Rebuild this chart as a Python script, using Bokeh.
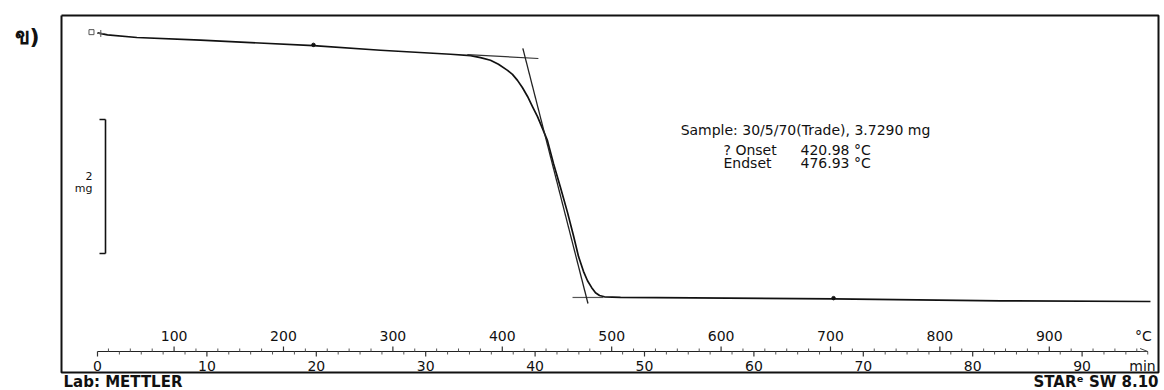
import numpy as np
from bokeh.plotting import figure
from bokeh.models import Range1d
from bokeh.embed import file_html
from bokeh.resources import INLINE
from bokeh.core.properties import value

# ---- TGA measurement: sample mass (mg) against time (min) ----
time_min = [0.0, 0.91, 3.6, 9.41, 19.74, 25.87, 32.27, 34.10, 35.01, 35.92,
            36.65, 37.48, 37.93, 38.39, 38.85, 39.31, 39.76, 40.22, 40.68,
            41.13, 41.68, 42.32, 42.96, 43.51, 43.97, 44.42, 44.79, 45.16,
            45.52, 45.89, 46.34, 47.81, 67.28, 82.54, 96.25]
mass_mg = [4.04, 4.01, 3.97, 3.93, 3.85, 3.78, 3.72, 3.70, 3.67, 3.63,
           3.57, 3.48, 3.42, 3.33, 3.22, 3.09, 2.94, 2.79, 2.61,
           2.43, 2.09, 1.73, 1.36, 1.01, 0.70, 0.48, 0.34, 0.24,
           0.16, 0.12, 0.10, 0.09, 0.07, 0.04, 0.03]

# heating programme: start temperature and rate
T_start_C = 30.0
rate_C_per_min = 10.0

# evaluation results
sample_text = "Sample: 30/5/70(Trade), 3.7290 mg"
onset_C = 420.98
endset_C = 476.93

# baselines used for the onset / endset construction
base_hi_t = [33.8, 40.3]
base_hi_mg = [3.716, 3.657]
base_lo_t = [43.42, 46.25]
base_lo_mg = [0.09, 0.09]

# scale bar
scale_bar_mg = 2.0
scale_bar_top_mg = 2.746

# axis ticks and labels
time_labels = [0, 10, 20, 30, 40, 50, 60, 70, 80, 90]
time_minor = list(range(0, 97, 2))
temp_labels = [100, 200, 300, 400, 500, 600, 700, 800, 900]
temp_minor = list(range(40, 1000, 20))

# ---- canvas geometry ----
W, H = 1164, 390
X0_PX, PX_PER_MIN = 97.0, 10.94
Y_REF_PX, MG_AT_REF, PX_PER_MG = 35.0, 4.0, 67.0

x_range = Range1d(-X0_PX / PX_PER_MIN, (W - X0_PX) / PX_PER_MIN)
y_range = Range1d(MG_AT_REF - (H - Y_REF_PX) / PX_PER_MG,
                  MG_AT_REF + Y_REF_PX / PX_PER_MG)

p = figure(width=W, height=H, x_range=x_range, y_range=y_range,
           output_backend="svg", toolbar_location=None,
           x_axis_location=None, y_axis_location=None,
           min_border=0, outline_line_color=None,
           background_fill_color="white", border_fill_color="white")
p.grid.visible = False
p.extra_x_ranges = {"px": Range1d(0, W)}
p.extra_y_ranges = {"px": Range1d(H, 0)}

FONT = value("DejaVu Sans")
ink = "#111111"

def min_of(temp_c):
    return (np.asarray(temp_c, dtype=float) - T_start_C) / rate_C_per_min

# frame
p.line([61, 1158, 1158, 61, 61], [15, 15, 372, 372, 15],
       x_range_name="px", y_range_name="px", line_color=ink, line_width=2)

# mass curve
p.line(time_min, mass_mg, line_color=ink, line_width=1.7, line_join="round")

# baselines and inflection tangent
p.line(base_hi_t, base_hi_mg, line_color="#333333", line_width=1.2)
p.line(base_lo_t, base_lo_mg, line_color="#555555", line_width=1.2)
t_on = float(min_of(onset_C))
t_end = float(min_of(endset_C))
m_on = float(np.interp(t_on, base_hi_t, base_hi_mg))
m_end = float(np.interp(t_end, base_lo_t, base_lo_mg))
slope = (m_end - m_on) / (t_end - t_on)
m_a, m_b = m_on + 0.14, m_end - 0.09
p.line([t_on + (m_a - m_on) / slope, t_end + (m_b - m_end) / slope],
       [m_a, m_b], line_color="#222222", line_width=1.3)

# evaluation markers along the curve
p.scatter([-0.55], [4.05], marker="square", size=5, fill_color=None,
          line_color="#555555", line_width=1)
p.scatter([0.3], [4.03], marker="cross", size=7, line_color="#555555", line_width=1)
p.scatter([19.74, 67.28], [3.86, 0.08], marker="circle", size=3.5,
          fill_color=ink, line_color=ink)

# scale bar
bar_x = 105
p.segment(x0=[bar_x, 99, 99], y0=[scale_bar_top_mg, scale_bar_top_mg, scale_bar_top_mg - scale_bar_mg],
          x1=[bar_x, bar_x, bar_x], y1=[scale_bar_top_mg - scale_bar_mg, scale_bar_top_mg, scale_bar_top_mg - scale_bar_mg],
          x_range_name="px", line_color=ink, line_width=1.6)
p.text(x=[92, 92], y=[175, 188], text=[f"{scale_bar_mg:g}", "mg"],
       x_range_name="px", y_range_name="px", text_font=FONT,
       text_font_size="11px", text_align="right", text_baseline="middle",
       text_color=ink)

# combined time / temperature axis
AXIS_Y = 351
p.segment(x0=[0], y0=[AXIS_Y], x1=[96.0], y1=[AXIS_Y], y_range_name="px",
          line_color="#222222", line_width=1.2)
p.segment(x0=[95.3, 95.3], y0=[AXIS_Y - 3, AXIS_Y + 0], x1=[96.0, 96.0],
          y1=[AXIS_Y, AXIS_Y], y_range_name="px", line_color="#444444", line_width=1)

t_minor_major = [t for t in time_minor if t % 10 == 0]
t_minor_small = [t for t in time_minor if t % 10 != 0]
p.segment(x0=t_minor_small, y0=[AXIS_Y] * len(t_minor_small), x1=t_minor_small,
          y1=[AXIS_Y + 3] * len(t_minor_small), y_range_name="px",
          line_color="#555555", line_width=1)
p.segment(x0=t_minor_major, y0=[AXIS_Y] * len(t_minor_major), x1=t_minor_major,
          y1=[AXIS_Y + 5] * len(t_minor_major), y_range_name="px",
          line_color="#333333", line_width=1.2)

T_small = [T for T in temp_minor if T % 100 != 0]
T_big = [T for T in temp_minor if T % 100 == 0]
p.segment(x0=min_of(T_small), y0=[AXIS_Y] * len(T_small), x1=min_of(T_small),
          y1=[AXIS_Y - 3] * len(T_small), y_range_name="px",
          line_color="#555555", line_width=1)
p.segment(x0=min_of(T_big), y0=[AXIS_Y] * len(T_big), x1=min_of(T_big),
          y1=[AXIS_Y - 5] * len(T_big), y_range_name="px",
          line_color="#333333", line_width=1.2)

p.text(x=time_labels, y=[365] * len(time_labels), text=[str(v) for v in time_labels],
       y_range_name="px", text_font=FONT, text_font_size="14px",
       text_align="center", text_baseline="middle", text_color=ink)
p.text(x=min_of(temp_labels), y=[335] * len(temp_labels), text=[str(v) for v in temp_labels],
       y_range_name="px", text_font=FONT, text_font_size="14px",
       text_align="center", text_baseline="middle", text_color=ink)
p.text(x=[1143, 1142], y=[335, 365], text=["°C", "min"], x_range_name="px",
       y_range_name="px", text_font=FONT, text_font_size="14px",
       text_align="center", text_baseline="middle", text_color=ink)

# evaluation box text
p.text(x=[805], y=[129], text=[sample_text], x_range_name="px", y_range_name="px",
       text_font=FONT, text_font_size="14px", text_align="center",
       text_baseline="middle", text_color=ink)
p.text(x=[723, 723], y=[149, 162], text=["? Onset", "Endset"],
       x_range_name="px", y_range_name="px", text_font=FONT, text_font_size="14px",
       text_align="left", text_baseline="middle", text_color=ink)
p.text(x=[800, 800], y=[149, 162], text=[f"{onset_C:.2f} °C", f"{endset_C:.2f} °C"],
       x_range_name="px", y_range_name="px", text_font=FONT, text_font_size="14px",
       text_align="left", text_baseline="middle", text_color=ink)

# panel tag and footer
p.text(x=[14], y=[36], text=["ข)"], x_range_name="px", y_range_name="px",
       text_font=FONT, text_font_size="22px", text_font_style="bold",
       text_align="left", text_baseline="middle", text_color=ink)
p.text(x=[63], y=[381], text=["Lab: METTLER"], x_range_name="px", y_range_name="px",
       text_font=FONT, text_font_size="15px", text_font_style="bold",
       text_align="left", text_baseline="middle", text_color=ink)
p.text(x=[1158], y=[381], text=["STARᵉ SW 8.10"], x_range_name="px", y_range_name="px",
       text_font=FONT, text_font_size="15px", text_font_style="bold",
       text_align="right", text_baseline="middle", text_color=ink)

open("out.html", "w").write(file_html(p, INLINE))
